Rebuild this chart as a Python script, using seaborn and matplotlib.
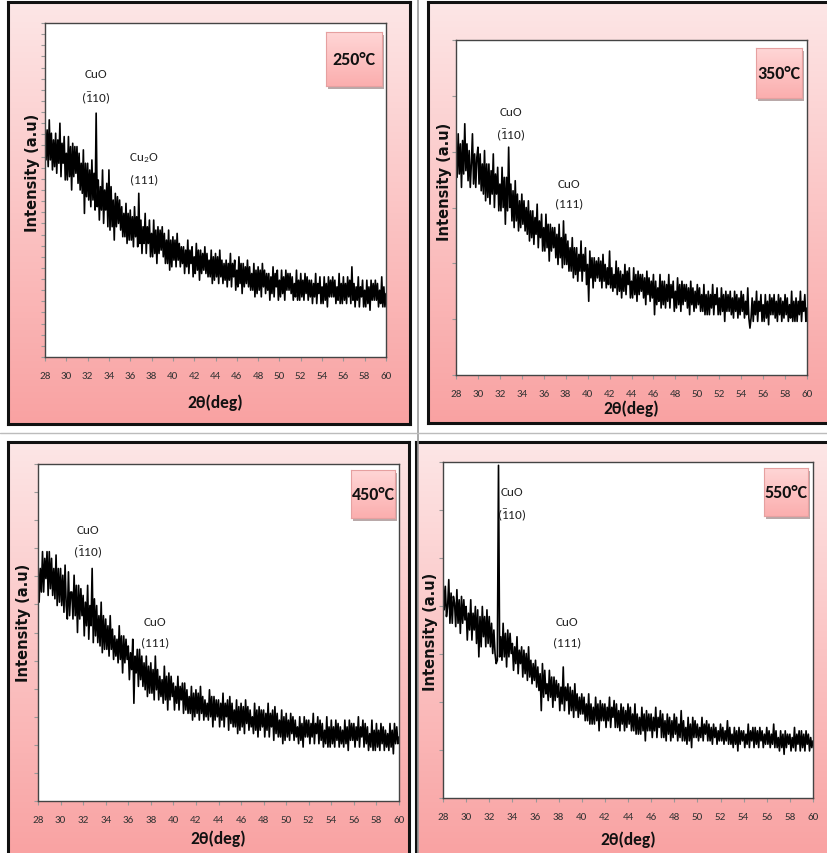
import numpy as np
import pandas as pd
import matplotlib
matplotlib.use("Agg")
import matplotlib.pyplot as plt
from matplotlib import font_manager as fm
from matplotlib.colors import LinearSegmentedColormap
import seaborn as sns

# ---------------- data ----------------
two_theta = [round(28 + 0.1 * i, 1) for i in range(321)]
x_ticks = list(range(28, 61, 2))
temperatures = ["250°C", "350°C", "450°C", "550°C"]

int_250 = [
    70, 59, 68, 57, 71, 59, 67, 56, 65, 57,
    67, 55, 65, 58, 70, 54, 64, 58, 66, 53,
    61, 53, 66, 54, 63, 50, 64, 54, 63, 55,
    63, 52, 61, 50, 58, 49, 62, 43, 58, 48,
    58, 47, 56, 45, 59, 47, 55, 44, 73, 45,
    53, 41, 51, 44, 56, 40, 50, 44, 52, 39,
    56, 38, 51, 39, 47, 35, 49, 39, 48, 40,
    47, 38, 45, 36, 43, 36, 46, 34, 43, 35,
    44, 35, 42, 33, 45, 36, 42, 33, 49, 34,
    41, 31, 39, 34, 43, 31, 39, 34, 41, 30,
    37, 30, 41, 31, 38, 28, 39, 31, 38, 32,
    39, 30, 37, 28, 35, 28, 38, 26, 35, 27,
    36, 29, 35, 27, 37, 29, 34, 27, 33, 28,
    33, 25, 32, 27, 35, 25, 32, 28, 33, 24,
    30, 25, 34, 26, 32, 23, 32, 25, 31, 26,
    33, 25, 31, 24, 29, 24, 32, 22, 30, 23,
    31, 24, 30, 22, 32, 24, 29, 22, 28, 23,
    29, 21, 28, 23, 31, 21, 28, 24, 29, 20,
    26, 21, 30, 22, 28, 19, 28, 21, 27, 22,
    29, 21, 27, 20, 25, 20, 28, 18, 26, 19,
    27, 20, 26, 18, 28, 21, 26, 19, 25, 20,
    25, 17, 24, 19, 27, 18, 25, 21, 26, 17,
    23, 18, 26, 19, 24, 17, 26, 20, 25, 20,
    25, 19, 24, 17, 22, 18, 26, 17, 23, 17,
    25, 18, 23, 17, 25, 19, 24, 17, 23, 18,
    23, 16, 22, 18, 25, 16, 22, 19, 24, 16,
    21, 16, 24, 17, 22, 15, 24, 18, 23, 18,
    24, 18, 23, 16, 21, 17, 25, 16, 22, 16,
    24, 17, 22, 16, 24, 18, 23, 16, 27, 17,
    22, 15, 21, 17, 24, 15, 21, 18, 23, 15,
    20, 15, 23, 16, 21, 14, 23, 17, 22, 17,
    23, 17, 22, 15, 20, 16, 24, 15, 21, 15,
    19]

int_350 = [
    67, 59, 72, 60, 69, 56, 70, 60, 75, 61,
    69, 58, 67, 56, 63, 72, 57, 66, 56, 65,
    68, 57, 66, 55, 63, 54, 67, 52, 63, 53,
    63, 51, 61, 54, 66, 50, 60, 54, 62, 49,
    57, 49, 62, 50, 59, 45, 59, 49, 68, 50,
    57, 46, 55, 44, 58, 46, 54, 43, 52, 44,
    54, 45, 52, 43, 50, 42, 52, 40, 49, 41,
    49, 39, 47, 42, 51, 38, 46, 41, 48, 37,
    44, 37, 48, 38, 45, 34, 45, 37, 44, 38,
    44, 35, 42, 33, 45, 35, 41, 32, 46, 33,
    42, 33, 40, 31, 38, 31, 41, 29, 38, 30,
    38, 28, 36, 31, 40, 28, 36, 31, 38, 27,
    33, 22, 37, 29, 35, 26, 35, 28, 34, 29,
    35, 28, 34, 26, 36, 28, 33, 26, 32, 27,
    37, 26, 32, 25, 30, 26, 34, 24, 32, 25,
    31, 23, 30, 25, 33, 24, 31, 27, 32, 23,
    28, 23, 32, 24, 30, 22, 31, 24, 30, 25,
    30, 23, 29, 21, 31, 24, 29, 22, 28, 23,
    30, 18, 28, 21, 26, 22, 30, 20, 28, 21,
    28, 20, 27, 22, 30, 20, 27, 23, 28, 19,
    25, 20, 29, 21, 27, 19, 28, 21, 27, 22,
    27, 20, 26, 18, 28, 21, 26, 19, 25, 20,
    27, 21, 26, 19, 24, 19, 27, 18, 24, 18,
    25, 18, 24, 20, 27, 18, 24, 21, 26, 18,
    23, 18, 26, 19, 24, 16, 25, 19, 24, 19,
    25, 18, 23, 17, 25, 19, 24, 17, 23, 18,
    25, 19, 24, 17, 22, 18, 26, 17, 14, 17,
    23, 16, 22, 18, 25, 16, 22, 19, 24, 16,
    21, 16, 24, 17, 22, 15, 24, 18, 23, 18,
    24, 17, 22, 16, 24, 18, 23, 16, 22, 17,
    24, 18, 23, 16, 21, 17, 25, 16, 22, 16,
    23, 16, 22, 18, 25, 16, 22, 19, 24, 16,
    20]

int_450 = [
    71, 59, 69, 62, 74, 62, 72, 66, 74, 61,
    74, 63, 72, 61, 69, 60, 73, 58, 69, 59,
    69, 58, 67, 56, 70, 58, 54, 68, 55, 62,
    62, 54, 67, 55, 64, 50, 64, 54, 63, 55,
    61, 49, 59, 52, 64, 48, 58, 52, 69, 47,
    60, 49, 58, 47, 55, 46, 59, 44, 55, 45,
    54, 45, 52, 43, 55, 45, 51, 42, 49, 43,
    48, 41, 52, 42, 49, 38, 49, 41, 48, 42,
    46, 36, 44, 39, 48, 29, 43, 38, 45, 34,
    45, 36, 43, 34, 41, 33, 43, 31, 40, 32,
    41, 32, 39, 30, 43, 33, 39, 30, 37, 31,
    36, 29, 40, 30, 37, 27, 38, 30, 37, 31,
    35, 27, 34, 29, 37, 27, 34, 30, 35, 26,
    35, 27, 33, 26, 31, 26, 34, 24, 32, 25,
    33, 26, 32, 24, 34, 26, 31, 24, 30, 25,
    29, 24, 33, 25, 31, 22, 31, 24, 30, 25,
    30, 22, 29, 24, 32, 22, 29, 25, 30, 21,
    31, 23, 29, 22, 27, 22, 30, 20, 28, 21,
    29, 22, 28, 20, 30, 23, 28, 21, 27, 22,
    25, 20, 29, 21, 27, 19, 28, 21, 27, 22,
    27, 19, 26, 21, 29, 19, 26, 22, 27, 18,
    28, 20, 26, 19, 24, 19, 27, 17, 25, 18,
    26, 19, 24, 18, 26, 20, 25, 18, 24, 19,
    22, 17, 25, 18, 23, 16, 25, 19, 24, 19,
    24, 17, 23, 19, 26, 17, 23, 20, 25, 17,
    24, 18, 23, 16, 21, 17, 25, 16, 22, 16,
    24, 17, 22, 16, 24, 18, 23, 16, 22, 17,
    21, 16, 24, 17, 22, 15, 24, 18, 23, 18,
    23, 16, 22, 18, 25, 16, 22, 19, 24, 16,
    23, 17, 22, 15, 20, 16, 24, 15, 21, 15,
    23, 16, 21, 15, 23, 17, 22, 15, 21, 16,
    20, 15, 23, 16, 21, 14, 23, 17, 22, 17,
    19]

int_550 = [
    65, 56, 63, 54, 57, 65, 52, 61, 52, 60,
    58, 51, 62, 52, 59, 49, 60, 52, 59, 53,
    57, 47, 55, 50, 59, 47, 55, 50, 57, 46,
    56, 42, 54, 45, 57, 48, 54, 45, 56, 46,
    54, 45, 52, 43, 50, 43, 40, 41, 99, 42,
    48, 41, 52, 42, 49, 39, 50, 42, 49, 43,
    46, 38, 45, 40, 48, 37, 44, 40, 45, 36,
    44, 37, 43, 35, 45, 36, 41, 34, 40, 35,
    41, 33, 39, 32, 37, 26, 40, 30, 38, 31,
    34, 29, 38, 30, 36, 27, 36, 29, 35, 30,
    34, 26, 33, 28, 39, 26, 33, 29, 34, 25,
    33, 26, 32, 24, 34, 26, 31, 24, 30, 25,
    31, 25, 30, 23, 28, 23, 31, 22, 28, 22,
    27, 22, 30, 23, 28, 20, 29, 23, 28, 23,
    28, 21, 27, 23, 30, 21, 27, 24, 29, 21,
    28, 21, 26, 20, 28, 22, 27, 20, 26, 21,
    28, 22, 27, 20, 25, 20, 28, 19, 25, 19,
    24, 19, 27, 20, 25, 17, 26, 20, 25, 20,
    25, 18, 24, 20, 27, 18, 24, 21, 26, 18,
    25, 18, 23, 17, 25, 19, 24, 17, 23, 18,
    25, 19, 24, 17, 22, 18, 26, 17, 23, 17,
    21, 16, 24, 17, 22, 15, 24, 18, 23, 18,
    22, 17, 21, 18, 24, 17, 22, 19, 23, 17,
    22, 17, 21, 16, 22, 18, 21, 16, 20, 17,
    22, 17, 21, 16, 20, 17, 23, 16, 21, 16,
    19, 15, 21, 16, 20, 14, 21, 16, 20, 17,
    20, 15, 19, 16, 22, 15, 20, 17, 21, 15,
    21, 16, 20, 15, 21, 17, 20, 15, 19, 16,
    21, 16, 20, 15, 19, 16, 22, 15, 20, 15,
    18, 14, 20, 15, 19, 13, 20, 15, 19, 16,
    19, 14, 18, 15, 21, 14, 19, 16, 20, 14,
    20, 15, 19, 14, 20, 16, 19, 14, 18, 15,
    17]

series = [int_250, int_350, int_450, int_550]
peak_labels = [
    ("CuO", r"$(\bar{1}10)$", r"Cu$_2$O", "(111)"),
    ("CuO", r"$(\bar{1}10)$", "CuO", "(111)"),
    ("CuO", r"$(\bar{1}10)$", "CuO", "(111)"),
    ("CuO", r"$(\bar{1}10)$", "CuO", "(111)"),
]

# ---------------- fonts ----------------
sns.set_theme(style="white")
avail = {f.name for f in fm.fontManager.ttflist}
narrow_font = "DejaVu Sans"
for cand in ["Carlito", "Liberation Sans Narrow", "PT Sans Narrow", "Roboto Condensed",
             "Open Sans Condensed", "Archivo Narrow", "Encode Sans Condensed", "Asap Condensed",
             "Fira Sans Condensed", "IBM Plex Sans Condensed"]:
    if cand in avail:
        narrow_font = cand
        break
NARROW = [narrow_font, "DejaVu Sans"]
plt.rcParams["font.family"] = ["DejaVu Sans"]
plt.rcParams["mathtext.fontset"] = "custom"
plt.rcParams["mathtext.rm"] = narrow_font
plt.rcParams["mathtext.it"] = narrow_font
plt.rcParams["mathtext.default"] = "regular"

# ---------------- layout (pixels) ----------------
W, H = 827, 854


def rect(l, t, r, b):
    return [l / W, 1 - b / H, (r - l) / W, (b - t) / H]


def fx(px):
    return px / W


def fy(py):
    return 1 - py / H


fig = plt.figure(figsize=(W / 100, H / 100), dpi=100)
fig.patch.set_facecolor("white")

pink = LinearSegmentedColormap.from_list("pink", ["#fde6e6", "#fbc4c4", "#f9a2a2"])
grad = np.linspace(0, 1, 256).reshape(-1, 1)

frames = [(8, 3, 410, 425), (428, 3, 830, 424), (8, 443, 409, 858), (416, 443, 830, 858)]
plots = [(45, 24, 386, 358), (456, 41, 807, 376), (38, 465, 399, 802), (443, 463, 813, 799)]
boxes = [(326, 33, 382, 87), (756, 49, 802, 99), (351, 471, 395, 519), (764, 469, 808, 517)]
ylabel_pos = [(32, 173), (444, 182), (24, 623), (430, 632)]
xlabel_y = [403, 409, 839, 840]
ydiv = [30, 6, 12, 7]
ann = [
    ((96, 75), (96, 98), (144, 158), (144, 180)),
    ((511, 113), (511, 135), (569, 184), (569, 204)),
    ((88, 531), (88, 552), (155, 623), (155, 643)),
    ((512, 493), (512, 515), (567, 622), (567, 643)),
]

fig.add_artist(plt.Line2D([fx(418), fx(418)], [0, 1], color="#9a9a9a", lw=1.2))
fig.add_artist(plt.Line2D([0, 1], [fy(434), fy(434)], color="#bcbcbc", lw=1.0))

for i in range(4):
    bg = fig.add_axes(rect(*frames[i]), zorder=0)
    bg.imshow(grad, aspect="auto", cmap=pink, extent=[0, 1, 0, 1])
    bg.set_xticks([]); bg.set_yticks([])
    for s in bg.spines.values():
        s.set_color("#111111"); s.set_linewidth(2.2)

    ax = fig.add_axes(rect(*plots[i]), zorder=2)
    ax.set_facecolor("white")
    df = pd.DataFrame({"2theta": two_theta, "I": series[i]})
    sns.lineplot(data=df, x="2theta", y="I", ax=ax, color="black", lw=1.2)
    ax.set_xlim(28, 60)
    ax.set_ylim(0, 100)
    ax.set_xticks(x_ticks)
    ax.set_xticklabels([str(t) for t in x_ticks], family=NARROW, fontsize=8, color="#333333")
    ax.set_yticks(np.linspace(0, 100, ydiv[i] + 1))
    ax.set_yticklabels([])
    ax.tick_params(axis="both", which="major", direction="out", length=3, width=0.8,
                   color="#999999", left=True, bottom=True)
    ax.tick_params(axis="x", pad=7)
    ax.set_xlabel(""); ax.set_ylabel("")
    for s in ax.spines.values():
        s.set_color("#444444"); s.set_linewidth(1.0)

    fig.text(fx(ylabel_pos[i][0]), fy(ylabel_pos[i][1]), "Intensity (a.u)", rotation=90,
             fontsize=10.5, fontweight="bold", ha="center", va="center", color="#111111", zorder=5)
    cx = (plots[i][0] + plots[i][2]) / 2
    fig.text(fx(cx), fy(xlabel_y[i]), "2θ(deg)", fontsize=12.5, fontweight="bold",
             family=NARROW, ha="center", va="center", color="#111111", zorder=5)

    l, t, r, b = boxes[i]
    sh = fig.add_axes(rect(l + 2, t + 3, r + 2, b + 3), zorder=3)
    sh.set_facecolor("#b9a9a9"); sh.set_xticks([]); sh.set_yticks([])
    for s in sh.spines.values():
        s.set_visible(False)
    bx = fig.add_axes(rect(l, t, r, b), zorder=4)
    bx.imshow(grad, aspect="auto", cmap=LinearSegmentedColormap.from_list("bx", ["#ffd6d6", "#fbaeae"]),
              extent=[0, 1, 0, 1])
    bx.set_xticks([]); bx.set_yticks([])
    for s in bx.spines.values():
        s.set_color("#e6a0a0"); s.set_linewidth(0.8)
    bx.text(0.5, 0.5, temperatures[i], transform=bx.transAxes, ha="center", va="center",
            fontsize=13, fontweight="bold", family=NARROW, color="#111111")

    for (px, py), txt in zip(ann[i], peak_labels[i]):
        fig.text(fx(px), fy(py), txt, fontsize=9.5, family=NARROW, ha="center", va="center",
                 color="#222222", zorder=6)

fig.savefig("out.png", dpi=100)
